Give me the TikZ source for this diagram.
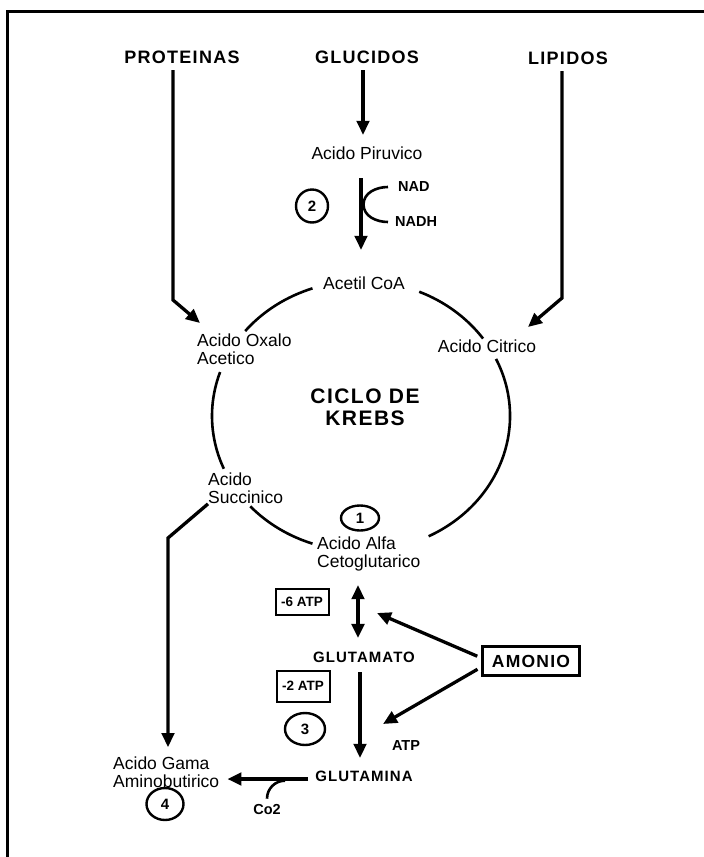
\documentclass[tikz,border=0pt]{standalone}
\usepackage{fontspec}
\setmainfont{Liberation Sans}
\newfontfamily\capsfont[LetterSpace=7]{Liberation Sans}
\usepackage{tikz}
\usetikzlibrary{arrows.meta,calc,shapes.geometric}

\begin{document}
\begin{tikzpicture}[
  x=1pt,
  y=-1pt,
  every node/.style={inner sep=0pt},
  txt/.style={font=\fontsize{17.5}{18.5}\selectfont},
  lbl/.style={font=\bfseries\fontsize{14.5}{16}\selectfont},
  srcname/.style={font=\capsfont\bfseries\fontsize{18}{20}\selectfont},
  caps/.style={font=\capsfont\bfseries\fontsize{15}{17}\selectfont},
  num/.style={draw, ellipse, line width=2.4pt, font=\bfseries\fontsize{15}{17}\selectfont},
  atpbox/.style={draw, line width=2pt, minimum width=53pt, font=\bfseries\fontsize{13.5}{15}\selectfont},
  flow/.style={line width=3.3pt, -{Triangle[length=14pt,width=12.5pt]}},
  ring/.style={line width=2.6pt}
]
\useasboundingbox (0,0) rectangle (704,857);
\draw[line width=3pt] (7,857) -- (7,11) -- (704,11);

% sources
\node[srcname] (prot) at (182,57) {PROTEINAS};
\node[srcname] (gluc) at (367,57) {GLUCIDOS};
\node[srcname] (lip) at (568,58) {LIPIDOS};

% glycolysis branch
\node[txt] (piru) at (367,153) {Acido Piruvico};
\node[num, minimum width=32pt, minimum height=33pt] (n2) at (312,206) {2};
\node[lbl, anchor=west] (nad) at (398,187) {NAD};
\node[lbl, anchor=west] (nadh) at (395,222) {NADH};

% cycle
\node[txt] (acetil) at (364,283) {Acetil CoA};
\node[txt, anchor=west, align=left] (oxalo) at (197,349) {Acido Oxalo\\Acetico};
\node[txt] (citrico) at (487,346) {Acido Citrico};
\node[font=\capsfont\bfseries\fontsize{21}{21.7}\selectfont, align=center] (krebs) at (365,407) {CICLO DE\\KREBS};
\node[txt, anchor=west, align=left] (succ) at (208,488) {Acido\\Succinico};
\node[num, minimum width=38pt, minimum height=25pt] (n1) at (360,518) {1};
\node[txt, anchor=west, align=left] (alfa) at (317,554) {Acido Alfa\\Cetoglutarico};

% glutamate / glutamine
\node[atpbox, minimum height=26pt] (atp6) at (302,602) {-6 ATP};
\node[caps] (glutamato) at (364,657) {GLUTAMATO};
\node[atpbox, minimum height=31pt] (atp2) at (303,686) {-2 ATP};
\node[num, minimum width=40pt, minimum height=32pt] (n3) at (305,729) {3};
\node[lbl] (atp) at (406,746) {ATP};
\node[caps] (glutamina) at (364,776) {GLUTAMINA};
\node[txt, anchor=west, align=left] (gaba) at (113,772) {Acido Gama\\Aminobutirico};
\node[num, minimum width=37pt, minimum height=32pt] (n4) at (165,804) {4};
\node[lbl] (co2) at (267,809) {Co2};
\node[draw, line width=2.2pt, minimum width=97pt, minimum height=29pt,
  font=\capsfont\bfseries\fontsize{17.5}{19}\selectfont] (amonio) at (531,661) {AMONIO};

\coordinate (kc) at (361,416);
\coordinate (pbend) at (173,300);
\coordinate (ptip) at (200,323);
\coordinate (lbend) at (562,298);
\coordinate (ltip) at (528,327);
\coordinate (sbend) at (168,538);
\coordinate (amup) at (377,613);
\coordinate (amdown) at (383,724);

% ring of the cycle
\foreach \a/\b in {109/141, 67/35, 161/203, 222/251, 25/-63}
  \draw[ring] (kc) ++(\a:149pt and 135pt) arc[start angle=\a, end angle=\b, x radius=149pt, y radius=135pt];

% arrows
\draw[flow, shorten <=6.5pt, shorten >=11.5pt] ([xshift=-4pt]gluc.south) -- ([xshift=-4pt]piru.north);
\draw[flow, shorten <=18.5pt, shorten >=26.5pt] ([xshift=-6pt]piru.south) -- ([xshift=-6pt]piru.south |- acetil.north);
\draw[ring] ([xshift=-10pt]nad.west) to[out=180,in=90] ($(nad.west)!.5!(nadh.west)+(-33pt,0)$) to[out=-90,in=180] ([xshift=-7pt]nadh.west);
\draw[flow, shorten <=6.5pt] (prot.south -| pbend) -- (pbend) -- (ptip);
\draw[flow, shorten <=6.5pt] (lip.south -| lbend) -- (lbend) -- (ltip);
\draw[flow, shorten >=9pt] (succ.south west) -- (sbend) -- (sbend |- gaba.north);
\draw[flow, {Triangle[length=14pt,width=12.5pt]}-{Triangle[length=14pt,width=12.5pt]}, shorten <=13.5pt, shorten >=13.5pt]
  ([xshift=-6pt]glutamato.north |- alfa.south) -- ([xshift=-6pt]glutamato.north);
\draw[flow, shorten <=9.6pt, shorten >=12.6pt] ([xshift=-4pt]glutamato.south) -- ([xshift=-4pt]glutamina.north);
\draw[flow, shorten <=4.5pt] ([yshift=3pt]amonio.west) -- (amup);
\draw[flow, shorten <=4.5pt] ([yshift=-6pt]amonio.west) -- (amdown);
\draw[flow, shorten <=7pt, shorten >=8pt] ([yshift=-3pt]glutamina.west) -- ([yshift=-3pt]glutamina.west -| gaba.east);
\draw[ring] ([yshift=5pt]co2.north) to[out=90,in=180] ([shift={(18pt,23pt)}]co2.north);
\end{tikzpicture}
\end{document}
